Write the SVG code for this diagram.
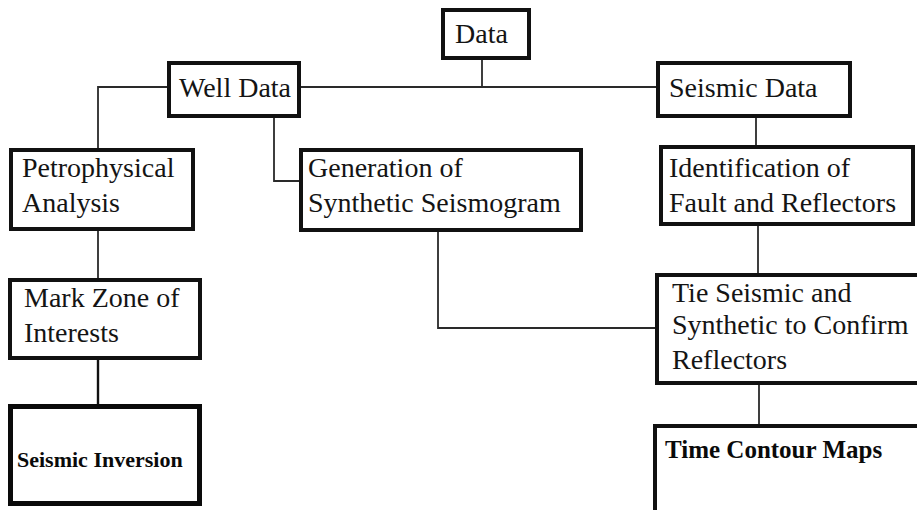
<svg xmlns="http://www.w3.org/2000/svg" width="917" height="510" viewBox="0 0 917 510">
  <style>
    .box { fill: #ffffff; stroke: #111111; stroke-width: 4; }
    .box-heavy { fill: #ffffff; stroke: #0a0a0a; stroke-width: 5; }
    .link { fill: none; stroke: #2a2a2a; stroke-width: 1.8; }
    .label { font-family: "Liberation Serif", "Times New Roman", serif; font-size: 28px; fill: #141414; }
    .label-bold { font-family: "Liberation Serif", "Times New Roman", serif; font-weight: bold; fill: #0a0a0a; }
  </style>
  <rect x="0" y="0" width="917" height="510" fill="#ffffff"/>

  <!-- connectors -->
  <g id="connectors">
    <path class="link" d="M482 60 V87"/>
    <path class="link" d="M301 87 H656"/>
    <path class="link" d="M167 87 H98 V148"/>
    <path class="link" d="M274 118 V181 H299"/>
    <path class="link" d="M756 118 V145"/>
    <path class="link" d="M758 226 V273"/>
    <path class="link" d="M438 232 V328 H655"/>
    <path class="link" d="M759 385 V424"/>
    <path class="link" d="M98 231 V278"/>
    <path class="link" d="M98 360 V404" style="stroke-width:2.4;stroke:#111"/>
  </g>

  <!-- nodes -->
  <g id="data">
    <rect class="box" x="443" y="10" width="86" height="48"/>
    <text class="label" x="455" y="43">Data</text>
  </g>
  <g id="well-data">
    <rect class="box" x="169" y="63" width="130" height="53"/>
    <text class="label" x="179" y="97">Well Data</text>
  </g>
  <g id="seismic-data">
    <rect class="box" x="658" y="63" width="192" height="53"/>
    <text class="label" x="669" y="97">Seismic Data</text>
  </g>
  <g id="petrophysical">
    <rect class="box" x="11" y="150" width="182" height="79"/>
    <text class="label" x="22" y="177">Petrophysical</text>
    <text class="label" x="22" y="212">Analysis</text>
  </g>
  <g id="synthetic">
    <rect class="box" x="301" y="150" width="280" height="80"/>
    <text class="label" x="308" y="177">Generation of</text>
    <text class="label" x="308" y="212">Synthetic Seismogram</text>
  </g>
  <g id="identification">
    <rect class="box" x="661" y="147" width="252" height="77"/>
    <text class="label" x="669" y="177">Identification of</text>
    <text class="label" x="669" y="212">Fault and Reflectors</text>
  </g>
  <g id="tie">
    <rect class="box" x="657" y="275" width="270" height="108"/>
    <text class="label" x="672" y="302">Tie Seismic and</text>
    <text class="label" x="672" y="334">Synthetic to Confirm</text>
    <text class="label" x="672" y="369">Reflectors</text>
  </g>
  <g id="mark-zone">
    <rect class="box" x="10" y="280" width="190" height="78"/>
    <text class="label" x="24" y="307">Mark Zone of</text>
    <text class="label" x="24" y="342">Interests</text>
  </g>
  <g id="seismic-inversion">
    <rect class="box-heavy" x="10.5" y="406.5" width="189" height="97"/>
    <text class="label-bold" x="17" y="467" font-size="22">Seismic Inversion</text>
  </g>
  <g id="time-contour">
    <rect class="box" x="655" y="426" width="270" height="100"/>
    <text class="label-bold" x="665" y="458" font-size="25">Time Contour Maps</text>
  </g>
</svg>
